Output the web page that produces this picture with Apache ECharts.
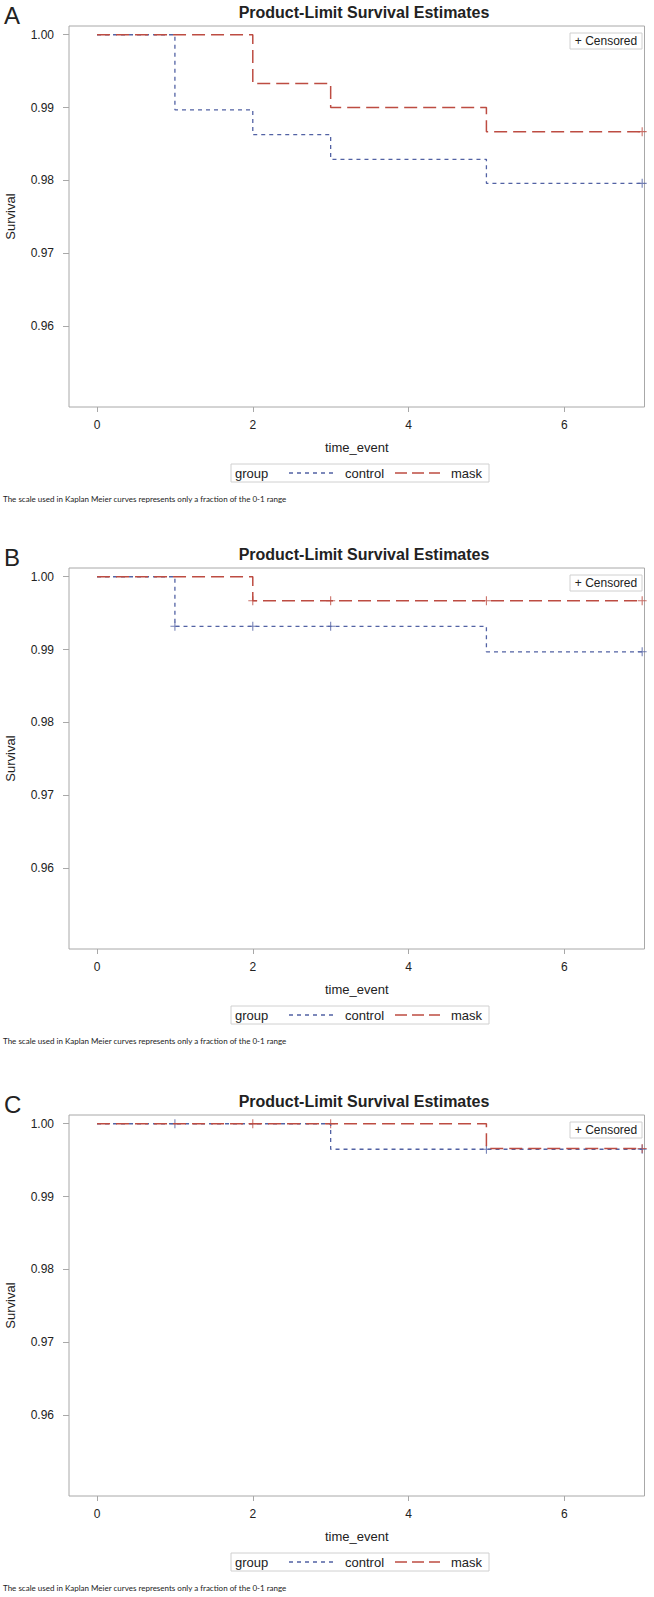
<!DOCTYPE html>
<html>
<head>
<meta charset="utf-8">
<script src="https://cdn.jsdelivr.net/npm/echarts@6/dist/echarts.min.js"></script>
<style>
  html, body { margin: 0; padding: 0; background: #fff; }
  #chart { width: 654px; height: 1597px; }
</style>
</head>
<body>
<div id="chart"></div>
<script>
// tick labels
const timeTicks = [0, 2, 4, 6];
const survivalTicks = [0.96, 0.97, 0.98, 0.99, 1.0];
const panelLetters = ["A", "B", "C"];

// panel A
const aControl = [[0, 1], [1, 0.9897], [2, 0.9863], [3, 0.9829], [5, 0.9796], [7, 0.9796]];
const aMask = [[0, 1], [2, 0.9933], [3, 0.99], [5, 0.9867], [7, 0.9867]];
const aControlCensored = [[7, 0.9796]];
const aMaskCensored = [[7, 0.9867]];

// panel B
const bControl = [[0, 1], [1, 0.9932], [5, 0.9897], [7, 0.9897]];
const bMask = [[0, 1], [2, 0.9967], [7, 0.9967]];
const bControlCensored = [[1, 0.9932], [2, 0.9932], [3, 0.9932], [7, 0.9897]];
const bMaskCensored = [[2, 0.9967], [3, 0.9967], [5, 0.9967], [7, 0.9967]];

// panel C
const cControl = [[0, 1], [3, 0.9965], [7, 0.9965]];
const cMask = [[0, 1], [5, 0.9966], [7, 0.9966]];
const cControlCensored = [[1, 1], [5, 0.9965], [7, 0.9965]];
const cMaskCensored = [[2, 1], [3, 1], [7, 0.9966]];

const panels = [
  { control: aControl, mask: aMask, controlCens: aControlCensored, maskCens: aMaskCensored },
  { control: bControl, mask: bMask, controlCens: bControlCensored, maskCens: bMaskCensored },
  { control: cControl, mask: cMask, controlCens: cControlCensored, maskCens: cMaskCensored },
];

const offsets = [0, 542, 1089];
const blue = "#5262a4";
const red = "#bd4c42";
const frameColor = "#a8a8a8";
const textColor = "#222";
const font = "'Liberation Sans', Arial, sans-serif";
const plus = "path://M4.4,0H5.6V4.4H10V5.6H5.6V10H4.4V5.6H0V4.4H4.4Z";

const grids = [], xAxes = [], yAxes = [], series = [], graphics = [];

panels.forEach((p, i) => {
  const oy = offsets[i];
  grids.push({ left: 69, top: 26 + oy, width: 575.5, height: 381, show: true,
    borderColor: frameColor, borderWidth: 1, containLabel: false, outerBoundsMode: "none" });
  xAxes.push({
    type: "value", gridIndex: i, min: -0.36, max: 7.03,
    name: "time_event", nameLocation: "middle", nameGap: 34,
    nameTextStyle: { fontSize: 13, color: textColor, fontFamily: font },
    axisLine: { show: false, onZero: false },
    splitLine: { show: false },
    axisTick: { show: true, length: 5, lineStyle: { color: frameColor }, customValues: timeTicks },
    axisLabel: { fontSize: 12, color: textColor, fontFamily: font, margin: 12, customValues: timeTicks },
  });
  yAxes.push({
    type: "value", gridIndex: i, min: 0.9489, max: 1.0012,
    name: "Survival", nameLocation: "middle", nameGap: 52,
    nameTextStyle: { fontSize: 13, color: textColor, fontFamily: font },
    axisLine: { show: false, onZero: false },
    splitLine: { show: false },
    axisTick: { show: true, length: 6, lineStyle: { color: frameColor }, customValues: survivalTicks },
    axisLabel: { fontSize: 12, color: textColor, fontFamily: font, margin: 15,
      customValues: survivalTicks, formatter: (v) => v.toFixed(2) },
  });

  series.push({
    name: "control", type: "line", step: "end", xAxisIndex: i, yAxisIndex: i,
    data: p.control, symbol: "none", silent: true,
    lineStyle: { color: blue, width: 1.3, type: [4, 4] },
  });
  series.push({
    name: "mask", type: "line", step: "end", xAxisIndex: i, yAxisIndex: i,
    data: p.mask, symbol: "none", silent: true,
    lineStyle: { color: red, width: 1.5, type: [13, 6] },
  });
  series.push({
    name: "control censored", type: "scatter", xAxisIndex: i, yAxisIndex: i,
    data: p.controlCens, symbol: plus, symbolSize: 9, itemStyle: { color: blue }, silent: true,
  });
  series.push({
    name: "mask censored", type: "scatter", xAxisIndex: i, yAxisIndex: i,
    data: p.maskCens, symbol: plus, symbolSize: 9, itemStyle: { color: red }, silent: true,
  });

  const txt = (x, y, text, size, extra) => ({
    type: "text", x, y,
    style: Object.assign({ text, fontSize: size, fontFamily: font, fill: textColor,
      textVerticalAlign: "middle", verticalAlign: "middle" }, extra || {}),
  });

  graphics.push(txt(4, 15 + oy, panelLetters[i], 24));
  graphics.push(txt(364, 12 + oy, "Product-Limit Survival Estimates", 16,
    { fontWeight: "bold", align: "center", textAlign: "center" }));
  // censored box
  graphics.push({ type: "rect", shape: { x: 570, y: 33 + oy, width: 72, height: 16 },
    style: { fill: "#fff", stroke: "#d0d0d0", lineWidth: 1 } });
  graphics.push(txt(606, 41 + oy, "+ Censored", 12, { align: "center", textAlign: "center" }));
  // group legend
  graphics.push({ type: "rect", shape: { x: 231, y: 464 + oy, width: 258, height: 18 },
    style: { fill: "#fff", stroke: "#d0d0d0", lineWidth: 1 } });
  graphics.push(txt(235, 473 + oy, "group", 13));
  graphics.push({ type: "line", shape: { x1: 289, y1: 473 + oy, x2: 335, y2: 473 + oy },
    style: { stroke: blue, lineWidth: 1.3, lineDash: [4, 4] } });
  graphics.push(txt(345, 473 + oy, "control", 13));
  graphics.push({ type: "line", shape: { x1: 395, y1: 473 + oy, x2: 440, y2: 473 + oy },
    style: { stroke: red, lineWidth: 1.5, lineDash: [12, 5] } });
  graphics.push(txt(451, 473 + oy, "mask", 13));
  // footnote
  graphics.push(txt(3, 499 + oy,
    "The scale used in Kaplan Meier curves represents only a fraction of the 0-1 range", 8,
    { fontFamily: "Lato, 'Open Sans', sans-serif" }));
});

const chart = echarts.init(document.getElementById("chart"), null, { renderer: "svg" });
chart.setOption({
  backgroundColor: "#fff",
  animation: false,
  grid: grids,
  xAxis: xAxes,
  yAxis: yAxes,
  series,
  graphic: graphics,
});
</script>
</body>
</html>
